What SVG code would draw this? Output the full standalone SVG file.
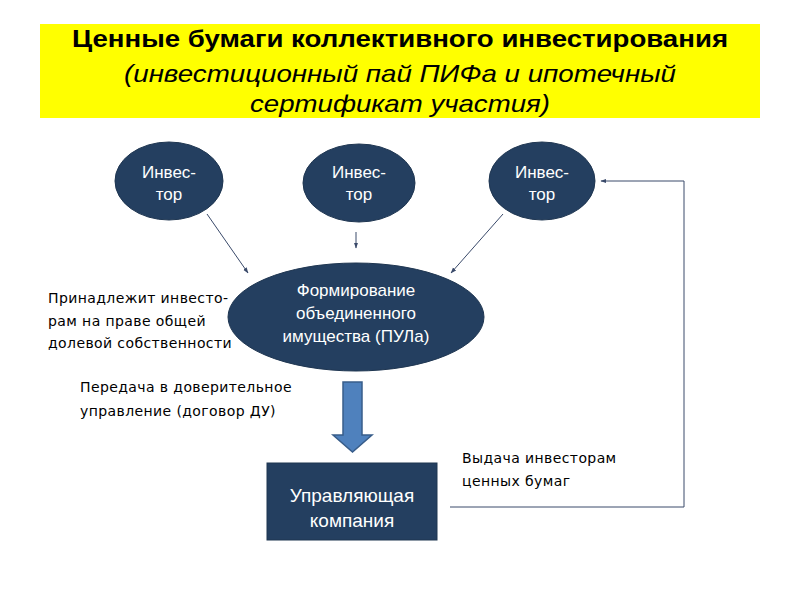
<svg xmlns="http://www.w3.org/2000/svg" width="800" height="600" viewBox="0 0 800 600">
<defs>
<style>
.node{fill:#243f60;stroke:#1f3651;stroke-width:1}
.nt{fill:#ffffff;font-family:"Liberation Sans",Arial,sans-serif;font-size:17px;text-anchor:middle}
.big{font-size:19px}
.lbl{fill:#000000;font-family:"DejaVu Sans","Liberation Sans",sans-serif;font-size:14px;letter-spacing:0.4px}
.ttl{font-family:"Liberation Sans",Arial,sans-serif;font-size:24px;text-anchor:middle}
.con{stroke:#3a4a6a;stroke-width:1;fill:none}
</style>
<marker id="ah" viewBox="0 0 10 10" refX="9" refY="5" markerWidth="6" markerHeight="6" orient="auto">
<path d="M0,1.5 L10,5 L0,8.5 z" fill="#3a4a6a"/>
</marker>
</defs>
<rect width="800" height="600" fill="#ffffff"/>
<g id="title">
<rect x="40" y="24" width="720" height="94" fill="#ffff00"/>
<text class="ttl" x="400" y="47" font-weight="bold" textLength="656" lengthAdjust="spacingAndGlyphs">Ценные бумаги коллективного инвестирования</text>
<text class="ttl" x="400" y="82" font-style="italic" textLength="552" lengthAdjust="spacingAndGlyphs">(инвестиционный пай ПИФа и ипотечный</text>
<text class="ttl" x="400" y="112" font-style="italic" textLength="300" lengthAdjust="spacingAndGlyphs">сертификат участия)</text>
</g>
<g id="connectors">
<line class="con" x1="207" y1="214" x2="248" y2="273" marker-end="url(#ah)"/>
<line class="con" x1="356" y1="232" x2="356" y2="248" marker-end="url(#ah)"/>
<line class="con" x1="503" y1="214" x2="451" y2="273" marker-end="url(#ah)"/>
<polyline class="con" points="450,507 684,507 684,181 601,181" marker-end="url(#ah)"/>
<path d="M343,382 H362 V435 H372 L352.5,452 L333,435 H343 Z" fill="#4f81bd" stroke="#385d8a" stroke-width="1.5"/>
</g>
<g id="investor1">
<ellipse class="node" cx="169" cy="181" rx="54" ry="39"/>
<text class="nt" x="169" y="178">Инвес-</text>
<text class="nt" x="169" y="200">тор</text>
</g>
<g id="investor2">
<ellipse class="node" cx="359" cy="183" rx="56" ry="39"/>
<text class="nt" x="359" y="178">Инвес-</text>
<text class="nt" x="359" y="200">тор</text>
</g>
<g id="investor3">
<ellipse class="node" cx="542" cy="181" rx="53" ry="39"/>
<text class="nt" x="542" y="178">Инвес-</text>
<text class="nt" x="542" y="200">тор</text>
</g>
<g id="pool">
<ellipse class="node" cx="356" cy="317" rx="128" ry="54"/>
<text class="nt" x="356" y="296">Формирование</text>
<text class="nt" x="356" y="319">объединенного</text>
<text class="nt" x="356" y="342">имущества (ПУЛа)</text>
</g>
<g id="company">
<rect class="node" x="267" y="463" width="170" height="77"/>
<text class="nt big" x="352" y="502">Управляющая</text>
<text class="nt big" x="352" y="527">компания</text>
</g>
<g id="labels">
<text class="lbl" x="48" y="303">Принадлежит инвесто-</text>
<text class="lbl" x="48" y="326">рам на праве общей</text>
<text class="lbl" x="48" y="348">долевой собственности</text>
<text class="lbl" x="80" y="392">Передача в доверительное</text>
<text class="lbl" x="80" y="416">управление (договор ДУ)</text>
<text class="lbl" x="462" y="463">Выдача инвесторам</text>
<text class="lbl" x="462" y="486">ценных бумаг</text>
</g>
</svg>
